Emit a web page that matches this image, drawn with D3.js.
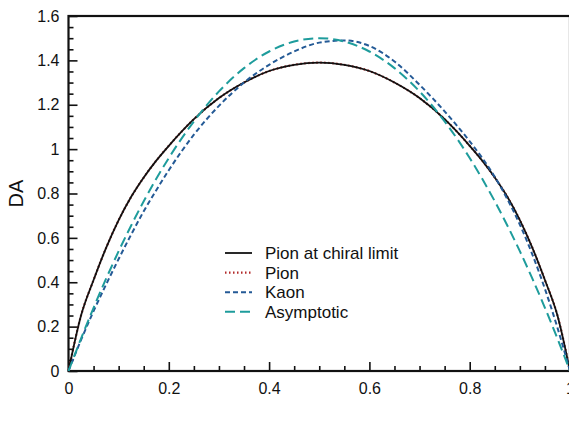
<!DOCTYPE html>
<html>
<head>
<meta charset="utf-8">
<script src="https://cdn.jsdelivr.net/npm/d3@7"></script>
<style>
  body { margin: 0; background: #fff; }
  svg { font-family: "Liberation Sans", Arial, Helvetica, sans-serif; }
</style>
</head>
<body>
<div class="chart"></div>
<script>
// values
const xs       = [0, 0.025, 0.05, 0.075, 0.1, 0.125, 0.15, 0.175, 0.2, 0.25, 0.3, 0.35, 0.4, 0.45, 0.5,
                  0.55, 0.6, 0.65, 0.7, 0.75, 0.8, 0.825, 0.85, 0.875, 0.9, 0.925, 0.95, 0.975, 1]
const chiral   = [0, 0.25, 0.41, 0.555, 0.68, 0.785, 0.872, 0.948, 1.015, 1.135, 1.23, 1.30, 1.352, 1.38, 1.39,
                  1.38, 1.352, 1.30, 1.23, 1.135, 1.015, 0.948, 0.872, 0.785, 0.68, 0.555, 0.41, 0.25, 0]
const pion     = [0, 0.25, 0.41, 0.555, 0.68, 0.785, 0.872, 0.948, 1.015, 1.135, 1.23, 1.30, 1.352, 1.38, 1.39,
                  1.38, 1.352, 1.30, 1.23, 1.135, 1.015, 0.948, 0.872, 0.785, 0.68, 0.555, 0.41, 0.25, 0]
const kaon     = [0, 0.14, 0.27, 0.39, 0.505, 0.615, 0.72, 0.815, 0.905, 1.065, 1.195, 1.30, 1.38, 1.44, 1.48,
                  1.49, 1.465, 1.395, 1.29, 1.17, 1.035, 0.96, 0.875, 0.775, 0.66, 0.525, 0.37, 0.195, 0]
const asym     = [0, 0.146, 0.285, 0.416, 0.54, 0.656, 0.765, 0.866, 0.96, 1.125, 1.26, 1.365, 1.44, 1.485, 1.5,
                  1.485, 1.44, 1.365, 1.26, 1.125, 0.96, 0.866, 0.765, 0.656, 0.54, 0.416, 0.285, 0.146, 0]
const legendLabels = ['Pion at chiral limit', 'Pion', 'Kaon', 'Asymptotic']
const xTicks = [0, 0.2, 0.4, 0.6, 0.8, 1]
const yTicks = [0, 0.2, 0.4, 0.6, 0.8, 1, 1.2, 1.4, 1.6]

const width = 569
const height = 433
const svg = d3.select('.chart')
  .append('svg')
  .attr('width', width)
  .attr('height', height)

const x = d3.scaleLinear().domain([0, 1]).range([68.5, 570])
const y = d3.scaleLinear().domain([0, 1.6]).range([371, 16])

const fmt = d => d === 0 || d === 1 ? String(d) : d3.format('.1f')(d)

// minor ticks every 0.05, pointing inward
const xMinor = d3.range(0, 1.0001, 0.05).filter(d => Math.abs(d * 5 - Math.round(d * 5)) > 1e-6)
const yMinor = d3.range(0, 1.6001, 0.05).filter(d => Math.abs(d * 5 - Math.round(d * 5)) > 1e-6)

svg.append('g')
  .attr('transform', 'translate(0,' + y(0) + ')')
  .call(d3.axisBottom(x).tickValues(xMinor).tickSize(-5).tickFormat(''))
svg.append('g')
  .attr('transform', 'translate(0,' + y(0) + ')')
  .call(d3.axisBottom(x).tickValues(xTicks).tickSize(-9).tickPadding(12).tickFormat(fmt))
svg.append('g')
  .attr('transform', 'translate(' + x(0) + ',0)')
  .call(d3.axisLeft(y).tickValues(yMinor).tickSize(-5).tickFormat(''))
svg.append('g')
  .attr('transform', 'translate(' + x(0) + ',0)')
  .call(d3.axisLeft(y).tickValues(yTicks).tickSize(-9).tickPadding(9).tickFormat(fmt))

svg.selectAll('.domain').remove()
svg.selectAll('.tick line').attr('stroke', '#111').attr('stroke-width', 1.6)
svg.selectAll('.tick text').attr('font-size', 16).attr('fill', '#111')
  .attr('font-family', '"Liberation Sans", Arial, sans-serif')

// frame
svg.append('rect')
  .attr('x', x(0))
  .attr('y', y(1.6))
  .attr('width', x(1) - x(0))
  .attr('height', y(0) - y(1.6))
  .attr('fill', 'none')
  .attr('stroke', '#111')
  .attr('stroke-width', 2.2)

svg.append('text')
  .attr('transform', 'translate(23,' + ((y(0) + y(1.6)) / 2) + ') rotate(-90)')
  .attr('text-anchor', 'middle')
  .attr('font-size', 20)
  .attr('fill', '#111')
  .text('DA')

const series = [
  {vals: pion, color: '#b22a2a', dash: '1.5,2.5', w: 2.2},
  {vals: chiral, color: '#111', dash: null, w: 1.8},
  {vals: kaon, color: '#245a96', dash: '5,3', w: 2},
  {vals: asym, color: '#1e9c9c', dash: '10,5', w: 2}
]

const line = d3.line()
  .x((d, i) => x(xs[i]))
  .y(d => y(d))
  .curve(d3.curveMonotoneX)

svg.selectAll('.curve')
  .data(series)
  .enter()
  .append('path')
  .attr('class', 'curve')
  .attr('d', d => line(d.vals))
  .attr('fill', 'none')
  .attr('stroke', d => d.color)
  .attr('stroke-width', d => d.w)
  .attr('stroke-dasharray', d => d.dash)

// legend
const legendSeries = [series[1], series[0], series[2], series[3]]
const lg = svg.append('g')
lg.selectAll('line')
  .data(legendSeries)
  .enter()
  .append('line')
  .attr('x1', 225)
  .attr('x2', 252)
  .attr('y1', (d, i) => 253 + i * 19.6)
  .attr('y2', (d, i) => 253 + i * 19.6)
  .attr('stroke', d => d.color)
  .attr('stroke-width', d => d.w)
  .attr('stroke-dasharray', d => d.dash)
lg.selectAll('text')
  .data(legendLabels)
  .enter()
  .append('text')
  .attr('x', 265)
  .attr('y', (d, i) => 259 + i * 19.6)
  .attr('font-size', 17)
  .attr('fill', '#111')
  .text(d => d)
</script>
</body>
</html>
